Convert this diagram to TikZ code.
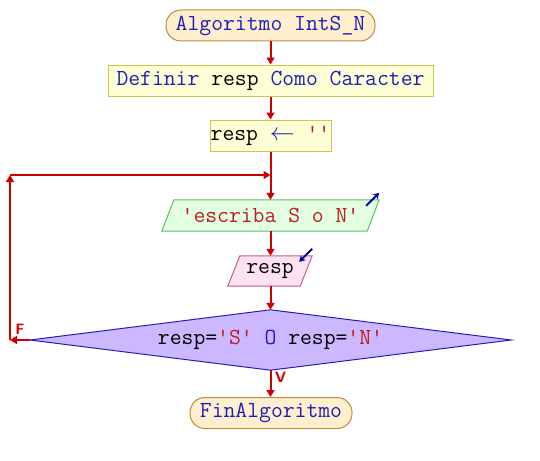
\documentclass[tikz,border=0pt]{standalone}
\usepackage{fontspec}
\setmonofont{Latin Modern Mono}
\usetikzlibrary{arrows.meta,calc,backgrounds}
\definecolor{kw}{RGB}{30,30,190}
\definecolor{strc}{RGB}{190,30,30}
\definecolor{flow}{RGB}{204,0,0}
\definecolor{ioarrow}{RGB}{0,0,150}
\definecolor{termfill}{RGB}{255,239,204}
\definecolor{termdraw}{RGB}{192,138,64}
\definecolor{procfill}{RGB}{255,255,214}
\definecolor{procdraw}{RGB}{200,200,80}
\definecolor{outfill}{RGB}{226,255,226}
\definecolor{outdraw}{RGB}{96,192,96}
\definecolor{infill}{RGB}{255,226,240}
\definecolor{indraw}{RGB}{192,96,144}
\definecolor{diafill}{RGB}{204,184,255}
\definecolor{diadraw}{RGB}{42,26,192}
\newcommand{\KW}[1]{\textcolor{kw}{#1}}
\newcommand{\STR}[1]{\textcolor{strc}{#1}}
\begin{document}
\begin{tikzpicture}[x=1pt,y=-1pt,
  every node/.style={font=\fontsize{23}{27}\selectfont\ttfamily, inner sep=0pt, text=black},
  term/.style={draw=termdraw, fill=termfill, line width=1pt, rounded corners=15pt, minimum height=31pt},
  proc/.style={draw=procdraw, fill=procfill, line width=1pt, minimum height=31pt},
  iobox/.style={minimum height=31pt},
  outshape/.style={draw=outdraw, fill=outfill, line width=1pt},
  inshape/.style={draw=indraw, fill=infill, line width=1pt},
  diashape/.style={draw=diadraw, fill=diafill, line width=1pt},
  flowline/.style={draw=flow, line width=2pt},
  flowarrow/.style={flowline, -{Triangle[width=8pt,length=7pt]}},
  ioarr/.style={draw=ioarrow, line width=1.8pt, -{Stealth[width=7pt,length=6pt]}},
  lbl/.style={font=\fontsize{15}{15}\selectfont\sffamily\bfseries, text=flow}
]
\useasboundingbox (0,0) rectangle (540,460);

\node[term, minimum width=209pt] (start) at (270.5,25.5) {\KW{Algoritmo IntS\_N}};
\node[proc, minimum width=325pt] (def) at (270.5,80.5) {\KW{Definir} resp \KW{Como Caracter}};
\node[proc, minimum width=121pt] (asg) at (270.5,135.5) {resp \KW{$\leftarrow$} \STR{''}};
\node[iobox, minimum width=217pt] (esc) at (270.5,215.5) {\STR{'escriba S o N'}};
\node[iobox, minimum width=84pt, minimum height=30pt] (rin) at (270,271) {resp};
\node[minimum width=481pt, minimum height=60pt] (dia) at (270.5,340) {resp=\STR{'S'} \KW{O} resp=\STR{'N'}};
\node[term, minimum width=162pt] (fin) at (271,413) {\KW{FinAlgoritmo}};

\begin{scope}[on background layer]
  \draw[outshape] ($(esc.north west)+(12,0)$) -- (esc.north east) -- ($(esc.south east)+(-12,0)$) -- (esc.south west) -- cycle;
  \draw[inshape] ($(rin.north west)+(12,0)$) -- (rin.north east) -- ($(rin.south east)+(-12,0)$) -- (rin.south west) -- cycle;
  \draw[diashape] (dia.north) -- (dia.east) -- (dia.south) -- (dia.west) -- cycle;
\end{scope}

\draw[ioarr] ($(esc.north east)+(-13,6)$) -- ($(esc.north east)+(0,-7)$);
\draw[ioarr] ($(rin.north east)+(0,-7)$) -- ($(rin.north east)+(-13,6)$);

\coordinate (jn) at (270.5,175);
\coordinate (cL) at (10,175);
\coordinate (fL) at (10,340);

\draw[flowarrow] (start.south) -- (def.north);
\draw[flowarrow] (def.south) -- (asg.north);
\draw[flowarrow] (asg.south) -- (esc.north);
\draw[flowarrow] (esc.south) -- (rin.north -| esc.south);
\draw[flowarrow] (rin.south -| esc.south) -- (dia.north);
\draw[flowarrow] (dia.south) -- (fin.north -| dia.south);
\draw[flowarrow] (dia.west) -- (fL);
\draw[flowarrow] (fL) -- (cL);
\draw[flowarrow] (cL) -- (jn);

\node[lbl] (Flab) at (20,329.5) {F};
\node[lbl] (Vlab) at (280.5,377.5) {V};
\end{tikzpicture}
\end{document}
